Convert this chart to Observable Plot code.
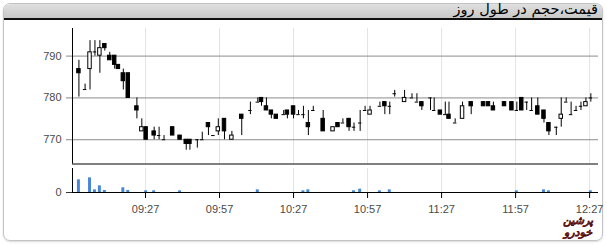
<!DOCTYPE html>
<html><head><meta charset="utf-8">
<script src="https://cdn.jsdelivr.net/npm/d3@7"></script>
<script src="https://cdn.jsdelivr.net/npm/@observablehq/plot@0.6"></script>
<style>
html,body{margin:0;padding:0;background:#fff;}
#wrap{position:relative;width:607px;height:245px;overflow:hidden;font-family:"Liberation Sans",Arial,sans-serif;}
#frame{position:absolute;left:3px;top:3px;width:598px;height:236px;border:1px solid #c4c4c4;border-radius:7px;box-shadow:0 1px 2px rgba(0,0,0,0.15);}
#head{position:absolute;left:4px;top:4px;width:598px;height:14px;background:linear-gradient(#e0e0e0,#c8c8c8);border-bottom:2px solid #111;border-radius:6px 6px 0 0;}
#title{position:absolute;right:9px;top:1px;direction:rtl;font-family:"DejaVu Sans",sans-serif;font-size:14.5px;line-height:17px;color:#000;white-space:nowrap;}
.plot{position:absolute;left:0;top:0;}
#logo{position:absolute;left:556px;top:215px;width:44px;text-align:center;direction:rtl;font-family:"DejaVu Sans",sans-serif;font-weight:bold;font-style:italic;font-size:11px;line-height:11.5px;color:#f0707a;-webkit-text-stroke:0.35px #4a1010;}
</style></head>
<body>
<div id="wrap">
  <div id="frame"></div>
  <div id="head"></div>
  <div id="title">قیمت،حجم در طول روز</div>
  <div id="pricePlot" class="plot"></div>
  <div id="volPlot" class="plot"></div>
  <div id="logo">پرشین<br>خودرو</div>
</div>
<script>
// ---- data ----
const times = ["09:00:00","09:02:30","09:04:30","09:06:30","09:08:30","09:10:30","09:12:30","09:14:30","09:16:00","09:18:00",
  "09:20:00","09:23:30","09:25:30","09:27:15","09:30:30","09:32:30","09:34:30","09:38:00","09:41:00","09:43:30",
  "09:45:00","09:48:00","09:50:00","09:52:30","09:54:30","09:56:30","09:59:00","10:02:00","10:06:00","10:09:30",
  "10:12:30","10:14:00","10:16:00","10:18:00","10:20:00","10:23:00","10:24:30","10:27:00","10:29:00","10:31:00",
  "10:33:00","10:35:00","10:39:00","10:43:00","10:45:00","10:47:00","10:49:30","10:51:30","10:54:00","10:56:00",
  "10:58:00","11:02:00","11:04:00","11:06:00","11:08:00","11:12:00","11:15:00","11:17:00","11:19:00","11:22:30",
  "11:24:00","11:26:30","11:28:30","11:30:00","11:32:30","11:35:30","11:39:00","11:44:00","11:46:00","11:48:00",
  "11:52:30","11:55:30","11:57:30","11:59:30","12:01:30","12:03:30","12:06:00","12:08:30","12:10:30","12:13:30",
  "12:15:30","12:17:30","12:19:30","12:21:30","12:23:30","12:25:30","12:27:30"];
const opens = [786.9,782,786.9,791,790.1,792.9,790.1,790.1,787.9,785.9,
  785.9,778,772,773,772,771,770,773,771,770,
  770,770,770,774,771,772,775,770,776,777,
  779,780,778,777,776,776,777,778,776,776,
  774,777,775,772,774,774,775,773,774,777,
  776,778,779,778,781,779,780,779,779,780,
  777,777,776,776,774,775,779,779,779,778,
  779,779,777,780,779,777,778,777,774,773,
  775,779,776,777,778,778,780];
const highs = [789,783.3,793.7,793.7,793.7,792.9,790.9,790.1,787.9,786.9,
  785.9,780,775,773,773,773,771,773,771,770,
  770,770,771.8,774,771,775,775,772,776,779,
  780,780,780,777,776,777,777,778,777,778,
  777,778,777,773,774,775,775,774,777,778,
  778,779,779,779,781.8,781.8,781,781,779,780,
  780,777,779,779,775,779,779,779,779,779,
  779,779,779,780,779,780,780,777,774,773,
  780,780,779,778,779,780,781];
const lows = [780.2,782,781.9,790,785.9,791.2,789,786.9,786.9,781.9,
  780,775,772,770,770,770,770,771,770,767.5,
  767.5,768,770,771,771,771,770,770,771,776,
  779,778,777,775,775,776,775,775,776,775,
  771,777,772,772,773,774,772,772,772,777,
  776,778,776,776,780.2,779,780,779,777,777,
  777,776,776,775,774,775,776,778,778,777,
  778,777,777,777,777,777,776,774,771,771,
  773,779,776,777,777,778,779];
const closes = [785.9,782,790.9,791,791.9,791.9,789,787.9,786.9,784,
  780,777,773,770,771,771,770,771,770,769,
  769,770,770,773,771,773,772,771,775,777,
  779,779,777,776,775,776,776,776,776,776,
  773,777,772,773,773,774,773,773,774,777,
  777,778,778,778,781,780,780,779,778,780,
  777,776,776,775,774,778,778,778,778,777,
  778,777,777,777,779,777,776,775,772,773,
  776,779,776,777,778,779,780];
const volTimes = ["09:00:00","09:04:30","09:06:30","09:08:30","09:10:30","09:18:00","09:20:00","09:27:15","09:30:30","09:41:00",
  "10:12:30","10:31:00","10:33:00","10:51:30","10:54:00","11:02:00","11:06:00","11:57:30","12:08:30","12:10:30","12:27:30"];
const volumes = [380,440,80,200,60,140,60,50,50,50,
  80,50,80,50,100,50,80,50,80,50,50];
const priceTicks = [770,780,790];
const timeTicks = ["09:27","09:57","10:27","10:57","11:27","11:57","12:27"];

// ---- build ----
const parse = s => { const [h,m,sec=0] = s.split(":").map(Number); return new Date(Date.UTC(2024,0,1,h,m,sec)); };
const MIN = 60000;
const candles = times.map((t,i)=>({t:parse(t), open:opens[i], high:highs[i], low:lows[i], close:closes[i]}));
const vols = volTimes.map((t,i)=>({t:parse(t), v:volumes[i]}));
const xDomain = [parse("08:57:24"), parse("12:30:36")];
const xTicks = timeTicks.map(parse);
const yDomain = [764.2, 796.6];
const bx1 = d => new Date(+d.t - 0.7*MIN), bx2 = d => new Date(+d.t + 0.7*MIN);
const style = {background:"transparent", fontFamily:"'Liberation Sans', Arial, sans-serif", fontSize:"11px", color:"#4a4a4a", overflow:"visible"};

const price = Plot.plot({
  width:607, height:245, marginLeft:72, marginRight:9, marginTop:28, marginBottom:81.5,
  style,
  x:{type:"utc", domain:xDomain, axis:null},
  y:{domain:yDomain, axis:null},
  marks:[
    Plot.ruleX(xTicks, {stroke:"#e3e3e3"}),
    Plot.ruleY(priceTicks, {stroke:"#8c8c8c"}),
    Plot.axisY({ticks:priceTicks, tickSize:6, tickPadding:5, label:null, stroke:"#888", fill:"#4a4a4a"}),
    Plot.ruleX([xDomain[0]], {stroke:"#000"}),
    Plot.ruleY([yDomain[0]], {stroke:"#000"}),
    Plot.ruleX(candles, {x:"t", y1:"low", y2:"high", stroke:"#000"}),
    Plot.rect(candles.filter(d=>d.close<d.open), {x1:bx1, x2:bx2, y1:"open", y2:"close", fill:"#000", stroke:"#000"}),
    Plot.rect(candles.filter(d=>d.close>d.open), {x1:bx1, x2:bx2, y1:"open", y2:"close", fill:"#fff", stroke:"#000"}),
    Plot.ruleY(candles.filter(d=>d.close===d.open), {y:"open", x1:bx1, x2:bx2, stroke:"#000"})
  ]
});
document.getElementById("pricePlot").appendChild(price);

const vol = Plot.plot({
  width:607, height:245, marginLeft:72, marginRight:9, marginTop:168, marginBottom:53,
  style,
  x:{type:"utc", domain:xDomain, axis:null},
  y:{domain:[0,720], axis:null},
  marks:[
    Plot.ruleX(xTicks, {stroke:"#e3e3e3"}),
    Plot.rect(vols, {x1:d=>new Date(+d.t-0.6*MIN), x2:d=>new Date(+d.t+0.6*MIN), y1:0, y2:"v", fill:"#4a86d6"}),
    Plot.ruleX([xDomain[0]], {stroke:"#000"}),
    Plot.ruleY([0], {stroke:"#000"}),
    Plot.axisX({ticks:xTicks, tickFormat:d3.utcFormat("%H:%M"), tickSize:6, tickPadding:7, label:null, stroke:"#000", fill:"#4a4a4a"}),
    Plot.axisY({ticks:[0], tickSize:6, tickPadding:5, label:null, stroke:"#333", fill:"#4a4a4a"})
  ]
});
document.getElementById("volPlot").appendChild(vol);
</script>
</body></html>
